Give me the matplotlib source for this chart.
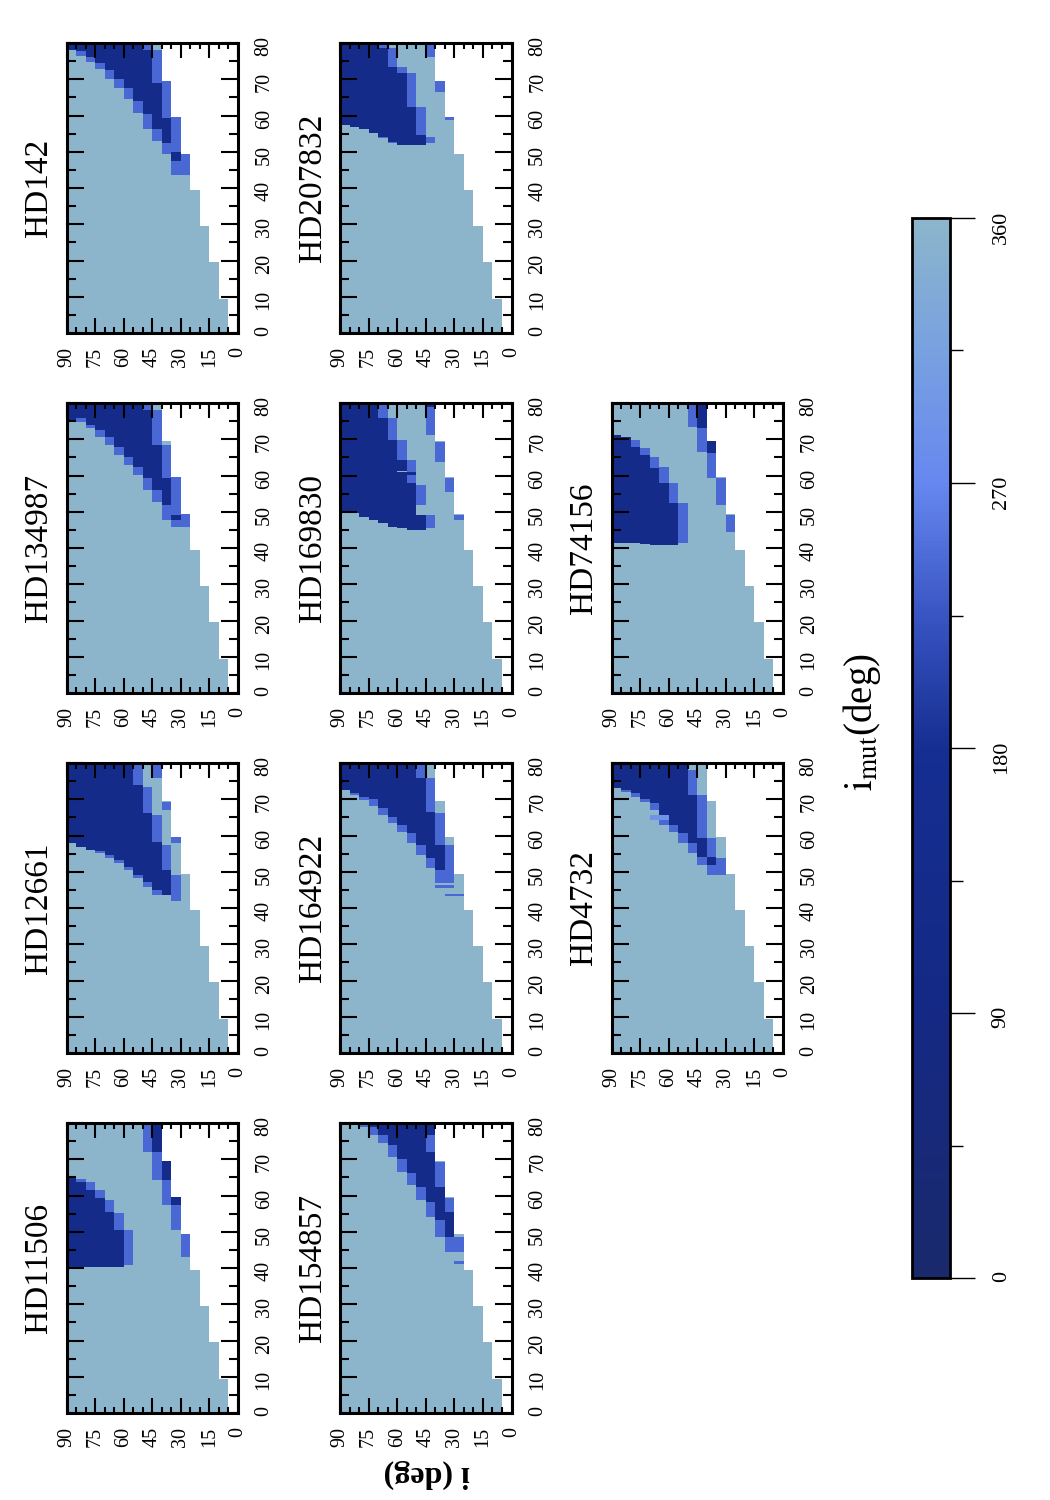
import numpy as np
import matplotlib
matplotlib.use('Agg')
import matplotlib.pyplot as plt
from matplotlib.colors import LinearSegmentedColormap
from matplotlib.ticker import MultipleLocator

plt.rcParams['font.family'] = ['Liberation Serif', 'DejaVu Serif']
plt.rcParams['mathtext.fontset'] = 'stix'

# map grid: i in 5 deg columns, x on a fine grid
i_edges = np.arange(0, 91, 5)
x_edges = np.round(np.arange(0, 80.01, 0.1), 2)

# below this i the cells are empty, for each band of x
band_top = [9.5, 19.5, 29.5, 39.5, 49.5, 59.5, 69.5, 80.0]
band_imin = [5, 10, 15, 20, 25, 30, 35, 40]

# i_mut (deg); all other valid cells ~360
level = {'D': 130, 'M': 243, 'B': 290, 'L': 360}
level_rest = 360

# cells that are not the light colour: (i column lower edge, colour, x from, x to)
hd142 = [(85, 'D', 78.2, 80), (80, 'D', 77.8, 80), (80, 'M', 76.4, 77.8),
         (75, 'D', 76.1, 80), (75, 'M', 74.8, 76.1), (70, 'D', 74.6, 80), (70, 'M', 72.7, 74.6),
         (65, 'D', 72.5, 80), (65, 'M', 70.2, 72.5), (60, 'D', 70.0, 80), (60, 'M', 67.7, 70.0),
         (55, 'D', 67.5, 80), (55, 'M', 64.5, 67.5), (50, 'D', 64.0, 80), (50, 'M', 60.8, 64.0),
         (45, 'M', 78.2, 80), (45, 'D', 60.3, 78.2), (45, 'M', 56.2, 60.3),
         (40, 'M', 69.1, 78.2), (40, 'D', 56.2, 69.1), (40, 'M', 53.0, 56.2),
         (35, 'M', 59.4, 69.5), (35, 'D', 52.5, 59.4), (35, 'M', 49.5, 52.5),
         (30, 'M', 49.8, 59.5), (30, 'D', 47.5, 49.8), (30, 'M', 43.7, 47.5),
         (25, 'M', 43.7, 49.5)]

hd134987 = [(85, 'D', 75.3, 80), (80, 'D', 75.8, 80), (80, 'M', 74.8, 75.8),
            (75, 'D', 74.0, 80), (75, 'M', 73.0, 74.0), (70, 'D', 72.5, 80), (70, 'M', 70.7, 72.5),
            (65, 'D', 70.5, 80), (65, 'M', 68.4, 70.5), (60, 'D', 68.0, 80), (60, 'M', 65.6, 68.0),
            (55, 'D', 65.2, 80), (55, 'M', 62.9, 65.2), (50, 'D', 62.4, 80), (50, 'M', 60.1, 62.4),
            (45, 'M', 78.1, 80), (45, 'D', 59.2, 78.1), (45, 'M', 56.0, 59.2),
            (40, 'M', 68.4, 78.1), (40, 'D', 56.0, 68.4), (40, 'M', 52.8, 56.0),
            (35, 'M', 59.2, 68.4), (35, 'D', 51.9, 59.2), (35, 'M', 47.7, 51.9),
            (30, 'M', 49.1, 59.5), (30, 'D', 47.7, 49.1), (30, 'M', 45.9, 47.7),
            (25, 'M', 45.9, 49.5)]

hd12661 = [(85, 'D', 57.8, 80), (80, 'D', 56.9, 80), (75, 'D', 56.0, 80),
           (70, 'D', 55.8, 80), (70, 'M', 55.1, 55.8), (65, 'D', 54.6, 80), (65, 'M', 53.7, 54.6),
           (60, 'D', 53.2, 80), (60, 'M', 52.3, 53.2), (55, 'D', 51.4, 80), (55, 'M', 50.5, 51.4),
           (50, 'M', 73.9, 80), (50, 'D', 49.1, 73.9), (50, 'M', 48.2, 49.1),
           (45, 'M', 66.1, 73.5), (45, 'D', 47.3, 66.1), (45, 'M', 45.9, 47.3),
           (40, 'M', 75.8, 80), (40, 'M', 58.3, 65.7), (40, 'D', 45.0, 58.3), (40, 'M', 43.6, 45.0),
           (35, 'M', 67.0, 69.3), (35, 'M', 50.5, 57.4), (35, 'D', 43.6, 50.5),
           (30, 'M', 57.8, 59.5), (30, 'M', 41.8, 49.1)]

hd11506 = [(85, 'D', 40.4, 65.2), (80, 'M', 63.8, 64.5), (80, 'D', 40.4, 63.8),
           (75, 'M', 61.5, 63.8), (75, 'D', 40.4, 61.5), (70, 'M', 59.2, 61.5), (70, 'D', 40.4, 59.2),
           (65, 'M', 55.5, 58.8), (65, 'D', 40.4, 55.5), (60, 'M', 50.5, 55.1), (60, 'D', 40.4, 50.5),
           (55, 'M', 40.8, 50.5), (45, 'M', 72.1, 80),
           (40, 'D', 72.1, 80), (40, 'M', 64.3, 72.1), (35, 'D', 64.3, 69.5), (35, 'M', 57.4, 64.3),
           (30, 'D', 57.4, 59.5), (30, 'M', 50.5, 57.4), (25, 'M', 43.1, 49.5)]

hd207832 = [(85, 'D', 57.4, 80), (80, 'D', 56.9, 80), (75, 'D', 56.2, 80), (70, 'D', 55.1, 80),
            (65, 'M', 78.5, 80), (65, 'D', 54.2, 78.5), (65, 'M', 53.7, 54.2),
            (60, 'M', 73.5, 78.5), (60, 'D', 52.8, 73.5), (60, 'M', 52.3, 52.8),
            (55, 'M', 71.6, 73.5), (55, 'D', 51.9, 71.6),
            (50, 'M', 62.4, 71.6), (50, 'D', 51.9, 62.4),
            (45, 'M', 54.6, 62.4), (45, 'D', 51.9, 54.6),
            (40, 'M', 76.2, 80), (40, 'M', 52.3, 54.2), (35, 'M', 66.6, 69.5), (30, 'M', 58.8, 59.5)]

hd169830 = [(85, 'D', 50.0, 80), (80, 'D', 49.6, 80), (75, 'D', 48.6, 80), (70, 'D', 47.7, 80),
            (65, 'M', 75.8, 80), (65, 'D', 46.8, 75.8), (60, 'M', 69.8, 75.8), (60, 'D', 45.9, 69.8),
            (55, 'M', 64.3, 69.8), (55, 'D', 45.4, 64.3), (55, 'L', 60.9, 61.3),
            (50, 'M', 61.1, 64.3), (50, 'D', 60.1, 61.1), (50, 'M', 57.8, 60.1), (50, 'D', 45.0, 57.8),
            (45, 'M', 51.9, 57.4), (45, 'D', 45.0, 49.1),
            (40, 'D', 79.0, 80), (40, 'M', 71.2, 79.0), (40, 'M', 45.4, 49.1),
            (35, 'M', 63.8, 69.3), (30, 'M', 55.5, 59.2), (25, 'M', 47.7, 49.1)]

hd164922 = [(85, 'D', 72.5, 80), (80, 'D', 71.6, 80), (80, 'M', 71.2, 71.6),
            (75, 'D', 70.7, 80), (75, 'M', 69.8, 70.7), (70, 'D', 70.0, 80), (70, 'M', 68.2, 70.0),
            (65, 'D', 67.5, 80), (65, 'M', 65.7, 67.5), (60, 'D', 65.2, 80), (60, 'M', 63.4, 65.2),
            (55, 'D', 62.9, 80), (55, 'M', 61.1, 62.9), (50, 'D', 60.6, 80), (50, 'M', 57.8, 60.6),
            (45, 'M', 75.8, 80), (45, 'D', 57.4, 75.8), (45, 'M', 54.6, 57.4),
            (40, 'M', 66.6, 75.8), (40, 'D', 53.7, 66.6), (40, 'M', 50.9, 53.7),
            (35, 'M', 57.4, 66.1), (35, 'D', 50.5, 57.4), (35, 'M', 46.9, 50.5), (35, 'M', 45.4, 46.3),
            (30, 'M', 46.9, 57.4), (30, 'M', 45.4, 46.3), (30, 'M', 43.4, 44.0),
            (25, 'M', 43.4, 44.0)]

hd154857 = [(75, 'M', 79.0, 80), (70, 'D', 79.0, 80), (70, 'M', 76.7, 79.0),
            (65, 'D', 76.7, 80), (65, 'M', 74.4, 76.7), (60, 'D', 73.9, 80), (60, 'M', 70.7, 73.9),
            (55, 'D', 70.2, 80), (55, 'M', 66.6, 70.2), (50, 'D', 66.1, 80), (50, 'M', 62.9, 66.1),
            (45, 'D', 62.4, 80), (45, 'M', 58.8, 62.4),
            (40, 'D', 76.7, 80), (40, 'M', 72.1, 76.7), (40, 'D', 58.3, 72.1), (40, 'M', 54.2, 58.3),
            (35, 'M', 62.4, 69.3), (35, 'D', 53.2, 62.4), (35, 'M', 48.6, 53.2),
            (30, 'M', 55.5, 59.2), (30, 'D', 48.6, 55.5), (30, 'M', 44.5, 48.6),
            (25, 'M', 44.5, 48.6), (25, 'M', 41.1, 41.8)]

hd74156 = [(85, 'D', 41.3, 71.2), (80, 'D', 41.3, 70.7), (75, 'M', 68.0, 69.8), (75, 'D', 41.3, 68.0),
           (70, 'M', 65.7, 67.5), (70, 'D', 41.1, 65.7), (65, 'M', 62.0, 65.2), (65, 'D', 40.8, 62.0),
           (60, 'M', 57.8, 62.4), (60, 'D', 40.8, 57.8), (55, 'M', 52.3, 57.8), (55, 'D', 40.8, 52.3),
           (50, 'M', 41.3, 52.3), (45, 'M', 73.5, 80), (40, 'D', 73.0, 80), (40, 'M', 66.6, 73.0),
           (35, 'D', 66.1, 69.5), (35, 'M', 59.2, 66.1), (30, 'M', 51.9, 59.2), (25, 'M', 44.5, 49.1)]

hd4732 = [(85, 'D', 73.0, 80), (80, 'D', 72.5, 80), (80, 'M', 72.1, 72.5),
          (75, 'D', 71.6, 80), (75, 'M', 70.7, 71.6), (70, 'D', 70.2, 80), (70, 'M', 69.3, 70.2),
          (65, 'D', 68.9, 80), (65, 'M', 67.0, 68.9), (65, 'B', 64.3, 65.7),
          (60, 'D', 65.7, 80), (60, 'B', 64.3, 65.7), (60, 'M', 62.9, 64.3),
          (55, 'D', 62.9, 80), (55, 'M', 61.1, 62.9), (50, 'D', 60.6, 80), (50, 'M', 57.8, 60.6),
          (45, 'M', 71.2, 78.1), (45, 'D', 57.8, 71.2), (45, 'M', 55.1, 57.8),
          (40, 'M', 59.2, 71.2), (40, 'D', 54.2, 59.2), (40, 'M', 51.9, 54.2),
          (35, 'M', 54.2, 59.2), (35, 'D', 51.9, 54.2), (35, 'M', 49.1, 51.9),
          (30, 'M', 49.1, 53.7)]

cells = {'HD11506': hd11506, 'HD12661': hd12661, 'HD134987': hd134987, 'HD142': hd142,
         'HD154857': hd154857, 'HD164922': hd164922, 'HD169830': hd169830,
         'HD207832': hd207832, 'HD4732': hd4732, 'HD74156': hd74156}

# panel arrangement (rows of the landscape page)
layout = [['HD11506', 'HD12661', 'HD134987', 'HD142'],
          ['HD154857', 'HD164922', 'HD169830', 'HD207832'],
          [None, 'HD4732', 'HD74156', None]]

cmap = LinearSegmentedColormap.from_list('imut', [
    (0.0, (0.10, 0.16, 0.42)), (0.25, (0.08, 0.16, 0.52)), (0.5, (0.08, 0.18, 0.57)),
    (0.625, (0.22, 0.33, 0.76)), (0.75, (0.40, 0.53, 0.94)), (0.875, (0.47, 0.63, 0.88)),
    (1.0, (0.55, 0.71, 0.80))])


def build(segs):
    xc = 0.5 * (x_edges[:-1] + x_edges[1:])
    ic = i_edges[:-1]
    z = np.full((len(xc), len(ic)), float(level_rest))
    for ilo, code, lo, hi in segs:
        rows = (xc >= lo) & (xc < hi)
        z[rows, ilo // 5] = level[code]
    imin = np.array(band_imin)[np.searchsorted(band_top, xc)]
    z[ic[None, :] < imin[:, None]] = np.nan
    return np.ma.masked_invalid(z)


W, H = 1050, 1500
fig = plt.figure(figsize=(W / 100, H / 100), dpi=100)
col_left = [66.5, 340, 611.5]
row_top = [1123, 763, 403, 43]
pw, ph = 171.5, 290

mesh = None
for r, names in enumerate(layout):
    for c, name in enumerate(names):
        if name is None:
            continue
        ax = fig.add_axes([col_left[r] / W, 1 - (row_top[c] + ph) / H, pw / W, ph / H])
        mesh = ax.pcolormesh(i_edges, x_edges, build(cells[name]), cmap=cmap,
                             vmin=0, vmax=360, shading='flat')
        ax.set_xlim(90, 0)
        ax.set_ylim(0, 80)
        ax.set_xticks(np.arange(0, 91, 15))
        ax.xaxis.set_minor_locator(MultipleLocator(5))
        ax.set_yticks(np.arange(0, 81, 10))
        ax.yaxis.set_minor_locator(MultipleLocator(5))
        ax.tick_params(which='both', direction='in', top=True, bottom=True,
                       left=True, right=True, width=1.5)
        ax.tick_params(axis='x', which='major', length=10.5, labelrotation=90,
                       labelsize=14.5, pad=10)
        ax.tick_params(axis='x', which='minor', length=4.5)
        ax.tick_params(axis='y', which='major', length=12.5, labelsize=14.5, pad=12)
        ax.tick_params(axis='y', which='minor', length=6.5)
        ax.tick_params(axis='y', labelleft=False, labelright=True, labelrotation=90)
        for s in ax.spines.values():
            s.set_linewidth(2.2)
        ax.text(-0.16, 0.5, name, rotation=90, ha='center', va='center',
                fontsize=24, transform=ax.transAxes)

fig.text(427 / W, 1 - 1474 / H, 'i (deg)', rotation=180, ha='center', va='center',
         fontsize=23, fontweight='bold')

cax = fig.add_axes([912 / W, 1 - 1278 / H, 38 / W, 1060 / H])
cb = fig.colorbar(mesh, cax=cax)
cb.set_ticks([0, 90, 180, 270, 360])
cax.yaxis.set_minor_locator(MultipleLocator(45))
cax.tick_params(which='major', length=18, width=1, direction='out', labelsize=16,
                labelrotation=90, pad=12)
cax.tick_params(which='minor', length=9, width=1, direction='out')
cb.outline.set_linewidth(2)
fig.text(862 / W, 1 - 722 / H, r'$\mathrm{i}_{\mathrm{mut}}$(deg)', rotation=90,
         ha='center', va='center', fontsize=28)

fig.savefig('out.png', dpi=100)
